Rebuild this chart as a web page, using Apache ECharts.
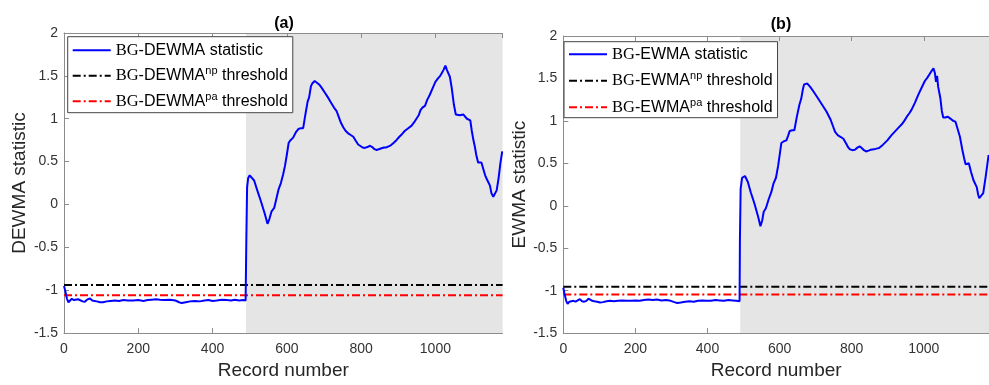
<!DOCTYPE html>
<html>
<head>
<meta charset="utf-8">
<script src="https://cdn.jsdelivr.net/npm/echarts@6/dist/echarts.min.js"></script>
<style>html,body{margin:0;padding:0;background:#fff}#c{width:989px;height:385px}</style>
</head>
<body>
<div id="c"></div>
<script>
// ---------- data ----------
const panelTitles = ['(a)', '(b)'];
const yAxisNames = ['DEWMA statistic', 'EWMA statistic'];
const xAxisName = 'Record number';
const xMax = 1181;
const shiftStartA = 490;
const shiftStartB = 491;

// (a) BG-DEWMA statistic
const dewmaX = [0,3,8,12,17,21,27,32,38,43,50,56,62,70,76,82,88,97,105,115,125,137,148,160,172,187,200,214,225,236,248,258,270,285,300,310,317,328,339,352,366,378,389,400,411,425,438,450,460,472,483,489,
  491,493,496,500,505,512,520,530,540,548,553,559,566,572,578,584,590,595,600,605,610,617,624,631,638,644,650,656,660,665,669,675,680,687,694,703,712,720,727,734,740,746,752,758,765,772,779,786,792,797,804,810,817,824,830,836,842,848,855,862,868,873,880,888,895,903,910,918,927,936,943,949,955,960,965,972,978,985,993,1000,1007,1013,1017,1022,1027,1031,1035,1039,1044,1050,1055,1060,1066,1070,1075,1080,1085,1090,1094,1098,1102,1106,1110,1115,1120,1124,1130,1134,1138,1142,1147,1151,1156,1160,1165,1170,1175,1180];
const dewmaY = [-0.95,-1.0,-1.10,-1.14,-1.13,-1.10,-1.115,-1.12,-1.105,-1.115,-1.13,-1.135,-1.11,-1.095,-1.12,-1.125,-1.13,-1.14,-1.14,-1.13,-1.125,-1.12,-1.125,-1.115,-1.12,-1.12,-1.115,-1.125,-1.115,-1.11,-1.105,-1.11,-1.115,-1.11,-1.12,-1.14,-1.15,-1.14,-1.13,-1.125,-1.13,-1.12,-1.115,-1.125,-1.12,-1.11,-1.115,-1.12,-1.11,-1.12,-1.115,-1.12,
  -0.4,0.2,0.31,0.34,0.34,0.28,0.17,0.04,-0.1,-0.225,-0.17,-0.08,-0.04,0.07,0.18,0.25,0.35,0.45,0.58,0.72,0.75,0.78,0.84,0.88,0.89,0.89,1.05,1.2,1.25,1.38,1.415,1.44,1.43,1.40,1.36,1.30,1.24,1.18,1.13,1.09,1.02,0.95,0.90,0.86,0.83,0.81,0.79,0.74,0.70,0.68,0.665,0.66,0.67,0.685,0.67,0.645,0.635,0.645,0.655,0.665,0.665,0.67,0.69,0.72,0.75,0.79,0.82,0.86,0.89,0.92,0.96,1.0,1.04,1.10,1.13,1.15,1.22,1.28,1.36,1.43,1.47,1.50,1.53,1.57,1.62,1.57,1.53,1.49,1.36,1.16,1.05,1.03,1.04,1.05,1.05,1.03,1.0,0.99,0.98,0.86,0.76,0.68,0.58,0.49,0.50,0.49,0.40,0.34,0.30,0.28,0.22,0.13,0.09,0.10,0.165,0.30,0.48,0.62];

// (b) BG-EWMA statistic
const ewmaX = [0,3,8,12,17,22,28,34,40,46,52,58,64,70,78,86,94,102,110,120,130,140,152,164,176,188,200,212,224,236,248,260,272,286,298,308,316,326,338,350,362,374,386,398,410,422,434,446,458,470,480,489,
  490,492,496,500,504,512,520,530,540,547,552,556,562,570,577,583,590,596,601,605,612,619,624,628,635,641,648,655,660,665,668,672,677,685,695,706,718,730,741,748,754,762,770,777,785,790,795,802,809,816,822,828,834,840,847,853,858,866,876,887,899,910,921,930,939,946,953,960,966,975,985,994,1003,1010,1016,1022,1027,1031,1034,1037,1040,1046,1050,1054,1060,1066,1070,1076,1082,1088,1093,1100,1107,1112,1116,1121,1125,1131,1138,1142,1147,1151,1154,1158,1165,1172,1180];
const ewmaY = [-0.965,-1.03,-1.12,-1.155,-1.13,-1.11,-1.12,-1.13,-1.115,-1.10,-1.125,-1.13,-1.12,-1.095,-1.115,-1.125,-1.13,-1.14,-1.135,-1.125,-1.12,-1.125,-1.12,-1.115,-1.12,-1.12,-1.115,-1.12,-1.11,-1.105,-1.11,-1.105,-1.115,-1.11,-1.12,-1.135,-1.145,-1.14,-1.13,-1.125,-1.13,-1.12,-1.115,-1.12,-1.12,-1.11,-1.115,-1.12,-1.11,-1.115,-1.12,-1.125,
  -0.4,0.2,0.33,0.35,0.35,0.28,0.16,0.03,-0.12,-0.24,-0.17,-0.07,-0.03,0.08,0.16,0.26,0.33,0.47,0.62,0.74,0.76,0.77,0.83,0.88,0.89,0.89,1.05,1.19,1.26,1.38,1.43,1.44,1.44,1.40,1.34,1.27,1.19,1.11,1.02,0.94,0.87,0.83,0.81,0.79,0.73,0.69,0.665,0.655,0.66,0.685,0.70,0.68,0.655,0.64,0.65,0.66,0.665,0.67,0.68,0.72,0.77,0.83,0.88,0.92,0.96,1.0,1.05,1.09,1.13,1.21,1.31,1.39,1.47,1.51,1.55,1.59,1.62,1.56,1.46,1.53,1.40,1.27,1.12,1.04,1.04,1.05,1.05,1.02,1.0,0.99,0.98,0.82,0.66,0.56,0.49,0.51,0.50,0.40,0.30,0.28,0.22,0.13,0.09,0.07,0.15,0.35,0.6];

// thresholds [np, pa]
const thresholdsA = [-0.94, -1.06];
const thresholdsB = [-0.955, -1.045];

const namesA = ['BG-DEWMA statistic', 'BG-DEWMA^np threshold', 'BG-DEWMA^pa threshold'];
const namesB = ['BG-EWMA statistic', 'BG-EWMA^np threshold', 'BG-EWMA^pa threshold'];

// ---------- chart ----------
const zip = (xs, ys) => xs.map((x, i) => [x, ys[i]]);
const chart = echarts.init(document.getElementById('c'), null, {renderer: 'canvas'});
const AX = '#8c8c8c';
const LBL = '#333';
const SANS = 'Liberation Sans, Arial, sans-serif';
const dashDot = [8, 3, 2, 3];

function richName(name) {
  const m = name.match(/^BG(-[A-Z]+)(\^(np|pa))?(.*)$/);
  if (!m) return name;
  let s = '{s|BG}{a|' + m[1] + '}';
  if (m[3]) s += '{p|' + m[3] + '}';
  s += '{a|' + m[4] + '}';
  return s;
}
const rich = {
  s: {fontFamily: 'Liberation Serif, Times New Roman, serif', fontSize: 16.5, lineHeight: 20, color: '#000'},
  a: {fontFamily: SANS, fontSize: 16, lineHeight: 20, color: '#000'},
  p: {fontFamily: SANS, fontSize: 11, lineHeight: 11, color: '#000', verticalAlign: 'top'}
};

function xAxes(gi) {
  return [{
    gridIndex: gi, type: 'value', min: 0, max: xMax, interval: 200, position: 'bottom',
    name: xAxisName, nameLocation: 'middle', nameGap: 27,
    nameTextStyle: {fontSize: 19, color: '#262626', fontFamily: SANS},
    axisLine: {show: true, onZero: false, lineStyle: {color: AX, width: 1}},
    axisTick: {show: true, inside: true, length: 5, lineStyle: {color: AX}},
    axisLabel: {fontSize: 14, color: LBL, margin: 9, fontFamily: SANS, showMaxLabel: false,
      formatter: v => String(v)},
    splitLine: {show: false}
  }, {
    gridIndex: gi, type: 'value', min: 0, max: xMax, interval: 200, position: 'top', z: 3,
    axisLine: {show: true, onZero: false, lineStyle: {color: AX, width: 1}},
    axisTick: {show: true, inside: true, length: 5, lineStyle: {color: AX}},
    axisLabel: {show: false}, splitLine: {show: false}
  }];
}
function yAxis(gi, name, gap) {
  return {
    gridIndex: gi, type: 'value', min: -1.5, max: 2, interval: 0.5,
    name: name, nameLocation: 'middle', nameGap: gap,
    nameTextStyle: {fontSize: 19, color: '#262626', fontFamily: SANS},
    axisLine: {show: true, onZero: false, lineStyle: {color: AX, width: 1}},
    axisTick: {show: true, inside: true, length: 5, lineStyle: {color: AX}},
    axisLabel: {fontSize: 14, color: LBL, margin: 6, fontFamily: SANS},
    splitLine: {show: false}
  };
}
function panelSeries(gi, names, xs, ys, thr, shiftStart) {
  const xi = gi * 2;
  return [
    {type: 'line', xAxisIndex: xi, yAxisIndex: gi, z: 1, silent: true, symbol: 'none',
     data: [[shiftStart, 0]], lineStyle: {opacity: 0},
     markArea: {silent: true, itemStyle: {color: '#e5e5e5'},
       data: [[{xAxis: shiftStart}, {xAxis: xMax}]]}},
    {name: names[0], type: 'line', xAxisIndex: xi, yAxisIndex: gi, z: 5, symbol: 'none',
     data: zip(xs, ys), lineStyle: {color: '#0000ff', width: 2}, itemStyle: {color: '#0000ff'}},
    {name: names[1], type: 'line', xAxisIndex: xi, yAxisIndex: gi, z: 4, symbol: 'none',
     data: [[0, thr[0]], [xMax, thr[0]]], lineStyle: {color: '#000', width: 2, type: dashDot}, itemStyle: {color: '#000'}},
    {name: names[2], type: 'line', xAxisIndex: xi, yAxisIndex: gi, z: 4, symbol: 'none',
     data: [[0, thr[1]], [xMax, thr[1]]], lineStyle: {color: '#ff0000', width: 2, type: dashDot}, itemStyle: {color: '#ff0000'}}
  ];
}
function legend(names, left, top, gap, pad) {
  return {
    data: names, left: left, top: top, orient: 'vertical', selectedMode: false,
    itemWidth: 38, itemHeight: 14, itemGap: gap, padding: pad,
    backgroundColor: '#fff', borderColor: '#444', borderWidth: 1, borderRadius: 0, z: 10,
    itemStyle: {opacity: 0},
    formatter: richName,
    textStyle: {fontSize: 16, color: '#000', fontFamily: SANS, rich: rich}
  };
}

const option = {
  animation: false,
  backgroundColor: '#fff',
  grid: [
    {left: 64, top: 33, width: 438.6, height: 308},
    {left: 563.3, top: 36, width: 435.8, height: 305.7}
  ],
  xAxis: [...xAxes(0), ...xAxes(1)],
  yAxis: [yAxis(0, yAxisNames[0], 35), yAxis(1, yAxisNames[1], 33)],
  legend: [
    legend(namesA, 67.7, 36.7, 7, [5, 5, 3, 4]),
    legend(namesB, 564, 41.7, 8, [4, 5, 2, 4])
  ],
  graphic: [
    {type: 'text', x: 284, y: 24, style: {text: panelTitles[0], font: 'bold 16px ' + SANS, fill: '#000', align: 'center', verticalAlign: 'middle'}},
    {type: 'text', x: 781, y: 25, style: {text: panelTitles[1], font: 'bold 16px ' + SANS, fill: '#000', align: 'center', verticalAlign: 'middle'}}
  ],
  series: [
    ...panelSeries(0, namesA, dewmaX, dewmaY, thresholdsA, shiftStartA),
    ...panelSeries(1, namesB, ewmaX, ewmaY, thresholdsB, shiftStartB)
  ]
};
chart.setOption(option);
</script>
</body>
</html>
